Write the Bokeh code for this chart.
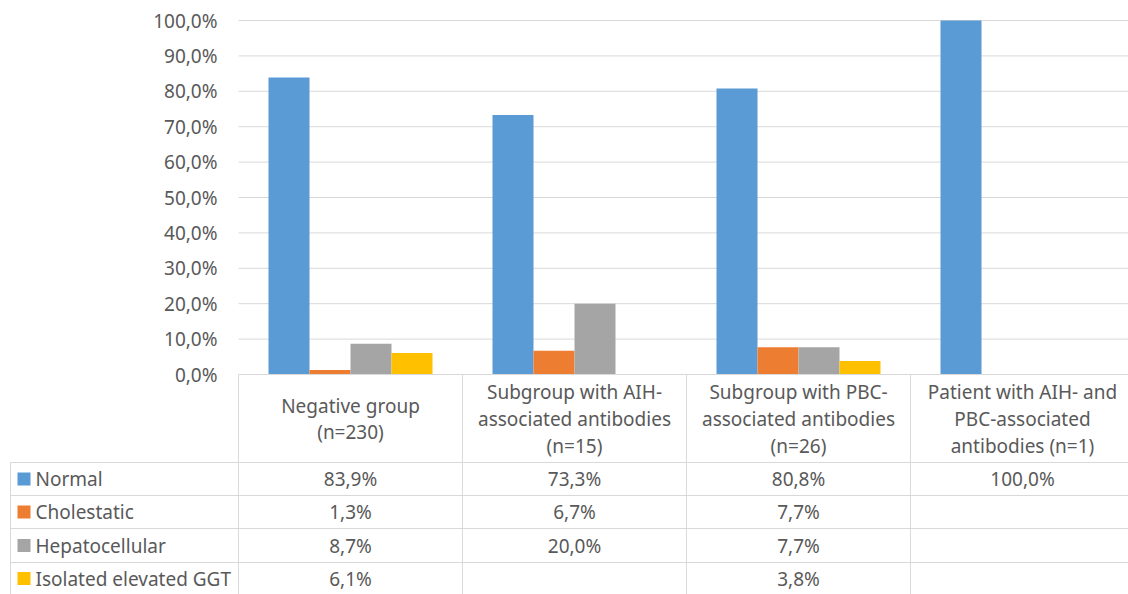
from bokeh.plotting import figure
from bokeh.models import Range1d, ColumnDataSource
from bokeh.core.properties import value
from bokeh.embed import file_html
from bokeh.resources import INLINE

# ---- data ----
categories = [
    "Negative group\n(n=230)",
    "Subgroup with AIH-\nassociated antibodies\n(n=15)",
    "Subgroup with PBC-\nassociated antibodies\n(n=26)",
    "Patient with AIH- and\nPBC-associated\nantibodies (n=1)",
]
series_names = ["Normal", "Cholestatic", "Hepatocellular", "Isolated elevated GGT"]
normal = [83.9, 73.3, 80.8, 100.0]
cholestatic = [1.3, 6.7, 7.7, None]
hepatocellular = [8.7, 20.0, 7.7, None]
isolated_ggt = [6.1, None, 3.8, None]
y_ticks = [0, 10, 20, 30, 40, 50, 60, 70, 80, 90, 100]
y_tick_labels = ["0,0%", "10,0%", "20,0%", "30,0%", "40,0%", "50,0%",
                 "60,0%", "70,0%", "80,0%", "90,0%", "100,0%"]

series = [normal, cholestatic, hepatocellular, isolated_ggt]
colors = ["#5B9BD5", "#ED7D31", "#A5A5A5", "#FFC000"]

FONT = value("Noto Sans")
TXT = "#595959"
LINE = "#D9D9D9"

W, H = 1128, 594
left_px, cat_px = 238, 224          # plot area left edge and category width
zero_px, top_px = 374, 20           # pixel rows of 0% and 100%
ppu = (zero_px - top_px) / 100.0

p = figure(width=W, height=H, output_backend="svg", toolbar_location=None,
           x_axis_type=None, y_axis_type=None, min_border=0,
           x_range=Range1d(-left_px / cat_px, (W - left_px) / cat_px),
           y_range=Range1d(-(H - zero_px) / ppu, zero_px / ppu))
p.outline_line_color = None
p.grid.visible = False
p.background_fill_color = "white"
p.border_fill_color = "white"
p.extra_x_ranges = {"px": Range1d(0, W)}
p.extra_y_ranges = {"px": Range1d(H, 0)}

n = len(categories)

# gridlines
p.segment(x0=[0] * len(y_ticks[1:]), x1=[n] * len(y_ticks[1:]), y0=y_ticks[1:], y1=y_ticks[1:],
          line_color=LINE, line_width=1)
# y tick labels
p.text(x=[0] * len(y_ticks), y=y_ticks, text=y_tick_labels, x_offset=-21,
       text_align="right", text_baseline="middle", text_font=FONT,
       text_font_size="19px", text_color=TXT)

# bars
bw = 41 / cat_px
for j, (vals, col) in enumerate(zip(series, colors)):
    xs, tops = [], []
    for i, v in enumerate(vals):
        if v is None:
            continue
        xs.append(i + 0.5 + (j - 1.5) * bw)
        tops.append(v)
    p.vbar(x=xs, top=tops, bottom=0, width=bw, fill_color=col, line_color=None)

# ---- data table ----
col_edges = [left_px + cat_px * i for i in range(n)]
row_lines = [462, 495, 528, 562]
row_centers = [478.5, 511.5, 545, 578]

# axis / table top line
p.segment(x0=[left_px], x1=[W], y0=[zero_px], y1=[zero_px], line_color=LINE,
          x_range_name="px", y_range_name="px")
# horizontal table lines
p.segment(x0=[10] * len(row_lines), x1=[W] * len(row_lines), y0=row_lines, y1=row_lines,
          line_color=LINE, x_range_name="px", y_range_name="px")
# vertical table lines
p.segment(x0=col_edges, x1=col_edges, y0=[zero_px] * n, y1=[H] * n,
          line_color=LINE, x_range_name="px", y_range_name="px")
p.segment(x0=[10], x1=[10], y0=[row_lines[0]], y1=[H],
          line_color=LINE, x_range_name="px", y_range_name="px")

# header labels
p.text(x=[i + 0.5 for i in range(n)], y=[-(418.5 - zero_px) / ppu] * n, text=categories,
       text_align="center", text_baseline="middle", text_font=FONT,
       text_font_size="19px", text_color=TXT, text_line_height=1.03)

# legend keys + row labels
p.rect(x=[23.5] * 4, y=row_centers, width=13, height=13, fill_color=colors, line_color=None,
       x_range_name="px", y_range_name="px")
p.text(x=[35] * 4, y=row_centers, text=series_names, text_align="left", text_baseline="middle",
       text_font=FONT, text_font_size="19px", text_color=TXT,
       x_range_name="px", y_range_name="px")

# cell values
def fmt(v):
    return "" if v is None else ("%.1f%%" % v).replace(".", ",")

cx, cy, ct = [], [], []
for r, vals in enumerate(series):
    for i, v in enumerate(vals):
        if v is None:
            continue
        cx.append(left_px + cat_px * (i + 0.5))
        cy.append(row_centers[r])
        ct.append(fmt(v))
p.text(x=cx, y=cy, text=ct, text_align="center", text_baseline="middle", text_font=FONT,
       text_font_size="19px", text_color=TXT, x_range_name="px", y_range_name="px")

open("out.html", "w").write(file_html(p, INLINE))
